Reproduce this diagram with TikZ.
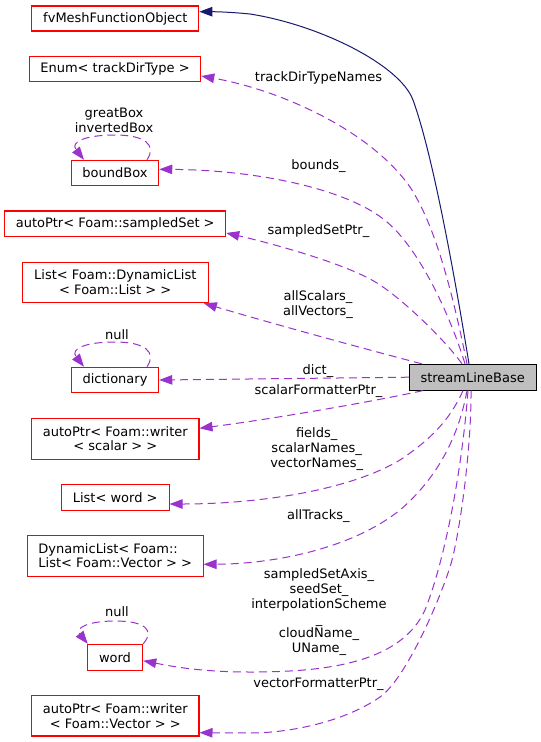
\documentclass[tikz,border=0pt]{standalone}
\usepackage{fontspec}
\setmainfont{DejaVu Sans}
\usetikzlibrary{arrows.meta,calc}
\definecolor{edgepurple}{HTML}{9A32CD}
\definecolor{navyblue}{HTML}{191970}
\definecolor{boxred}{HTML}{FF0000}
\definecolor{boxgray}{HTML}{BFBFBF}
\begin{document}
\begin{tikzpicture}[x=1pt,y=-1pt,
  every node/.style={font=\fontsize{13}{14.8}\selectfont, inner sep=0pt},
  box/.style={draw=boxred, line width=1.1pt, fill=white, align=center},
  mainbox/.style={draw=black, line width=1.1pt, fill=boxgray},
  lbl/.style={align=center},
  member/.style={draw=edgepurple, line width=1pt, dash pattern=on 8pt off 5pt, -{Triangle[length=13pt,width=9.5pt]}},
  inherit/.style={draw=navyblue, line width=1pt, -{Triangle[length=13pt,width=9.5pt]}},
]
\useasboundingbox[fill=white] (0,0) rectangle (541,742);

% nodes
\node[box, minimum width=167pt, minimum height=25pt] (fv) at (115.3,18.5) {fvMeshFunctionObject};
\node[box, minimum width=171.4pt, minimum height=25pt] (enum) at (115,69.2) {Enum< trackDirType >};
\node[box, minimum width=87.4pt, minimum height=25.4pt] (bb) at (115,173) {boundBox};
\node[box, minimum width=221pt, minimum height=25.7pt] (sset) at (115.2,223.8) {autoPtr< Foam::sampledSet >};
\node[box, minimum width=186pt, minimum height=40.4pt] (ldyn) at (115.3,282.5) {List< Foam::DynamicList\\< Foam::List > >};
\node[box, minimum width=87.4pt, minimum height=25.4pt] (dict) at (115,380) {dictionary};
\node[box, minimum width=167.3pt, minimum height=40.7pt] (wsc) at (115.3,438.7) {autoPtr< Foam::writer\\< scalar > >};
\node[box, minimum width=107.7pt, minimum height=25.7pt] (lword) at (115.2,497.2) {List< word >};
\node[box, align=left, minimum width=175.7pt, minimum height=40.7pt] (dlist) at (115.2,555.7) {DynamicList< Foam::\\List< Foam::Vector > >};
\node[box, minimum width=55.4pt, minimum height=25.7pt] (word) at (115,657.2) {word};
\node[box, minimum width=167.3pt, minimum height=40.3pt] (wvec) at (115.3,715.8) {autoPtr< Foam::writer\\< Foam::Vector > >};
\node[mainbox, minimum width=126.7pt, minimum height=25.7pt] (slb) at (472.7,377.2) {streamLineBase};

% inheritance
\draw[inherit] ([xshift=-3.7pt]slb.north) .. controls (456,284) and (433.4,156) .. (413,100)
  .. controls (400,65) and (320,25) .. (250,14) .. controls (230,12) and (215,11.7) .. ([yshift=6.8pt]fv.east);

% member edges
\draw[member] ([xshift=-5.7pt]slb.north) .. controls (452,290) and (435,225) .. (410,187)
  .. controls (370,130) and (280,90) .. ([yshift=-6.8pt]enum.east);
\draw[member] ([xshift=-7.7pt]slb.north) .. controls (450,315) and (420,250) .. (387,222)
  .. controls (350,190) and (260,170) .. ([yshift=3.7pt]bb.east);
\draw[member] ([xshift=-10.7pt]slb.north) .. controls (444.6,339.4) and (402.5,299) .. (377,283)
  .. controls (343,261.8) and (260,240.6) .. ([yshift=-9.2pt]sset.east);
\draw[member] ([xshift=-51pt]slb.north) .. controls (350,345) and (260,320) .. ([xshift=-5pt]ldyn.south east);
\draw[member] (slb.west) -- (dict.east);
\draw[member] ([xshift=-49.7pt]slb.south) .. controls (380,400) and (280,418) .. ([yshift=10.4pt]wsc.east);
\draw[member] ([xshift=-9.7pt]slb.south) .. controls (450,420) and (430,440) .. (400,460)
  .. controls (350,490) and (260,504) .. ([yshift=-6.8pt]lword.east);
\draw[member] ([xshift=-5.7pt]slb.south) .. controls (458,440) and (435,480) .. (400,510)
  .. controls (350,550) and (270,564) .. ([yshift=-8.6pt]dlist.east);
\draw[member] ([xshift=-4.7pt]slb.south) .. controls (462,470) and (445,560) .. (425,610)
  .. controls (400,665) and (320,672) .. (250,672) .. controls (200,672) and (170,666) .. ([yshift=-3.5pt]word.east);
\draw[member] ([xshift=-1.7pt]slb.south) .. controls (471.5,450) and (459,539) .. (450,567)
  .. controls (438,604.6) and (405,679.5) .. (380,697) .. controls (345,721.5) and (290,733) .. (250,733)
  -- ([yshift=-16.9pt]wvec.east);

% self loops
\draw[member] ([xshift=32pt]bb.north) .. controls (157,145) and (145,135) .. (115,135)
  .. controls (85,135) and (70,142) .. ([xshift=-31pt]bb.north);
\draw[member] ([xshift=32pt]dict.north) .. controls (157,352) and (145,342) .. (115,342)
  .. controls (85,342) and (70,349) .. ([xshift=-31pt]dict.north);
\draw[member] (word.north east) .. controls (155,630) and (145,621) .. (115,621)
  .. controls (88,621) and (75,628) .. ([xshift=1pt]word.north west);

% labels
\node[lbl] (lbox) at (114,120.2) {greatBox\\invertedBox};
\node[lbl] (lnull1) at (117,335) {null};
\node[lbl] (lnull2) at (117,611.7) {null};
\node[lbl] (ltrack) at (318.5,78) {trackDirTypeNames};
\node[lbl] (lbounds) at (318.5,166) {bounds\_};
\node[lbl] (lsset) at (318.5,231) {sampledSetPtr\_};
\node[lbl] (lall) at (318,304.2) {allScalars\_\\allVectors\_};
\node[lbl] (ldict) at (318,370.7) {dict\_};
\node[lbl] (lscal) at (318.5,391) {scalarFormatterPtr\_};
\node[lbl] (lfields) at (316.7,448.8) {fields\_\\scalarNames\_\\vectorNames\_};
\node[lbl] (ltracks) at (318.3,515.7) {allTracks\_};
\node[lbl] (laxis) at (319,612.2) {sampledSetAxis\_\\seedSet\_\\interpolationScheme\\\_\\cloudName\_\\UName\_};
\node[lbl] (lvec) at (318.5,684) {vectorFormatterPtr\_};
\end{tikzpicture}
\end{document}
